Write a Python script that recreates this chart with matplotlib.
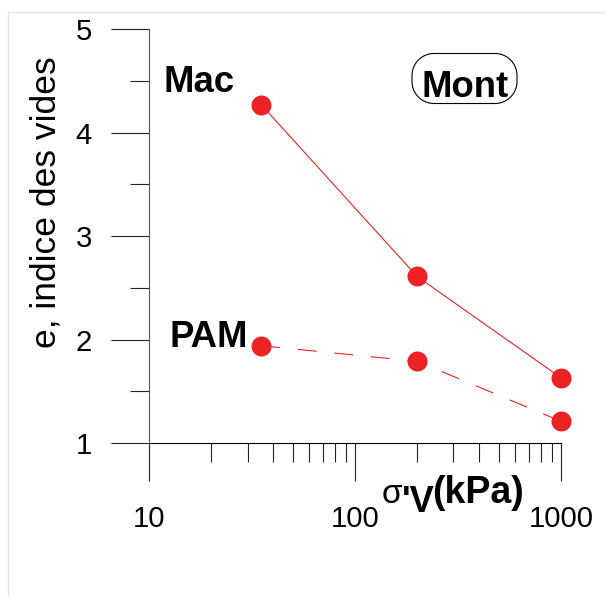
import numpy as np
import matplotlib
matplotlib.use("Agg")
import matplotlib.pyplot as plt
from matplotlib.patches import Polygon
from matplotlib.lines import Line2D
from matplotlib.transforms import IdentityTransform
from matplotlib.ticker import LogLocator, MultipleLocator, FixedLocator, NullFormatter

# ---- data ----
sigma_v = [35, 200, 1000]          # kPa
e_mac = [4.27, 2.61, 1.63]
e_pam = [1.94, 1.79, 1.21]
x_ticks = [10, 100, 1000]
x_ticklabels = ["10", "100", "1000"]
y_ticks = [1, 2, 3, 4, 5]

W, H = 605, 597
DPI = 100
plt.rcParams['font.family'] = ['Liberation Sans', 'DejaVu Sans']

fig = plt.figure(figsize=(W / DPI, H / DPI), dpi=DPI)

def fx(x):
    return x / W

def fy(y):
    return 1 - y / H

# axes placement (pixel measures)
x0, x1 = 149.3, 561.0
y_top, y_bot = 29.3, 443.0
ax = fig.add_axes([fx(x0), fy(y_bot), fx(x1) - fx(x0), (y_bot - y_top) / H])

red = "#ED2224"
ax.plot(sigma_v, e_mac, color=red, lw=0.8, marker="o", ms=14.4,
        markeredgewidth=0, clip_on=False, zorder=3)
ax.plot(sigma_v, e_pam, color=red, lw=0.8, marker="o", ms=14.4,
        markeredgewidth=0, clip_on=False, zorder=3, dashes=(17, 16))

ax.set_xscale("log")
ax.set_xlim(10, 1000)
ax.set_ylim(1, 5)

ax.xaxis.set_major_locator(FixedLocator(x_ticks))
ax.set_xticklabels(x_ticklabels)
ax.xaxis.set_minor_locator(LogLocator(base=10, subs=range(2, 10)))
ax.xaxis.set_minor_formatter(NullFormatter())
ax.yaxis.set_major_locator(FixedLocator(y_ticks))
ax.yaxis.set_minor_locator(MultipleLocator(0.5))

for s in ["top", "right"]:
    ax.spines[s].set_visible(False)
ax.spines["left"].set_color("#555555")
ax.spines["bottom"].set_color("black")
for s in ["left", "bottom"]:
    ax.spines[s].set_linewidth(0.8)

ax.tick_params(which="major", direction="out", length=27.4, width=0.8,
               labelsize=21.2, color="#222222")
ax.tick_params(axis="x", which="major", pad=17.5)
ax.tick_params(axis="y", which="major", pad=14)
ax.tick_params(which="minor", direction="out", length=13.7, width=0.8,
               color="#222222")

# y label
fig.text(fx(46), fy(202), "e, indice des vides", rotation=90,
         ha="center", va="center", fontsize=25.5)

# x label pieces
fig.text(fx(382), fy(503), "\u03c3", fontsize=24, ha="left", va="baseline")
fig.text(fx(402), fy(512), "'V", fontsize=26, fontweight="bold",
         ha="left", va="baseline")
fig.text(fx(432), fy(503), "(kPa)", fontsize=27, fontweight="bold",
         ha="left", va="baseline")

# annotations
fig.text(fx(163), fy(92), "Mac", fontsize=26.3, fontweight="bold",
         ha="left", va="baseline")
fig.text(fx(170), fy(346.7), "PAM", fontsize=26.3, fontweight="bold",
         ha="left", va="baseline")
fig.text(fx(421), fy(96.7), "Mont", fontsize=26.3, fontweight="bold",
         ha="left", va="baseline")

# rounded (pill) box around "Mont", in pixel coordinates
bx0, bx1 = 412.0, 517.0
by0, by1 = H - 103.5, H - 53.5
r = 22.0
pts = []
corners = [((bx1 - r, by0 + r), -90, 0), ((bx1 - r, by1 - r), 0, 90),
           ((bx0 + r, by1 - r), 90, 180), ((bx0 + r, by0 + r), 180, 270)]
for (cx, cy), a0, a1 in corners:
    t = np.radians(np.linspace(a0, a1, 20))
    pts.extend(zip(cx + r * np.cos(t), cy + r * np.sin(t)))
box = Polygon(pts, closed=True, fill=False, edgecolor="black",
              linewidth=0.8, transform=IdentityTransform())
fig.patches.append(box)

# faint frame lines
fig.add_artist(Line2D([fx(8), fx(605)], [fy(12), fy(12)], color="#e6e6e6",
                      lw=1, transform=fig.transFigure))
fig.add_artist(Line2D([fx(8), fx(8)], [fy(12), fy(597)], color="#e6e6e6",
                      lw=1, transform=fig.transFigure))

fig.savefig("out.png", dpi=DPI)
